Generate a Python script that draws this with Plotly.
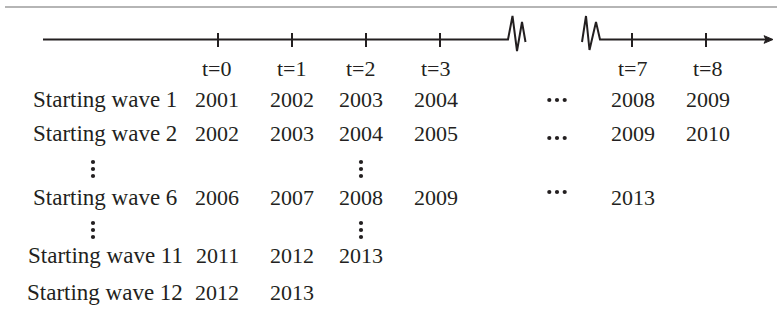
import plotly.graph_objects as go

# ---------------- data ----------------
t_values = [0, 1, 2, 3, 7, 8]
t_labels = ["t=0", "t=1", "t=2", "t=3", "t=7", "t=8"]

row_labels = ["Starting wave 1", "Starting wave 2", "Starting wave 6",
              "Starting wave 11", "Starting wave 12"]
row_t = [
    [0, 1, 2, 3, 7, 8],
    [0, 1, 2, 3, 7, 8],
    [0, 1, 2, 3, 7],
    [0, 1, 2],
    [0, 1],
]
row_years = [
    [2001, 2002, 2003, 2004, 2008, 2009],
    [2002, 2003, 2004, 2005, 2009, 2010],
    [2006, 2007, 2008, 2009, 2013],
    [2011, 2012, 2013],
    [2012, 2013],
]
rows_with_ellipsis = [True, True, True, False, False]

# ---------------- layout helpers (pixel canvas) ----------------
W, H = 777, 316
ROW_Y = [99, 133, 197, 255, 292]
VDOT_Y = [169, 230]
ELLIPSIS_DY = [1, 5, -5, 0, 0]
AXIS_Y = 39.5
TLABEL_Y = 68
LABEL_X = 105
ELLIPSIS_X = 557
INK = "#231f20"
FONT = "Liberation Serif, Times New Roman, serif"
FS = 22
FS_LABEL = 23


def col_px(t):
    # broken time axis: t<=3 on left segment, t>=7 after the break
    if t <= 3:
        return 218 + 74 * t
    return 632 + 74 * (t - 7)


def text_px(t):
    # text columns sit marginally left of the ticks for t=2,3
    off = {0: -1, 1: 0, 2: -5, 3: -4, 7: 1, 8: 2}
    return col_px(t) + off.get(t, 0)


fig = go.Figure()

# main timeline (two segments with break zigzags)
fig.add_trace(go.Scatter(
    x=[43, 508, 512.5, 517, 522, 525.5],
    y=[AXIS_Y, AXIS_Y, 16, 51, 22, 42],
    mode="lines", line=dict(color=INK, width=2), hoverinfo="skip"))
fig.add_trace(go.Scatter(
    x=[582, 586, 589.5, 596, 600, 766],
    y=[42, 16, 50, 22, AXIS_Y, AXIS_Y],
    mode="lines", line=dict(color=INK, width=2), hoverinfo="skip"))

shapes = []
# top rule
shapes.append(dict(type="line", x0=5, x1=W, y0=7, y1=7,
                   line=dict(color="#6d6d6d", width=1.2), xref="x", yref="y"))
# arrowhead
shapes.append(dict(type="path",
                   path=f"M 773 {AXIS_Y} L 764 {AXIS_Y-3.8} L 766 {AXIS_Y} L 764 {AXIS_Y+3.8} Z",
                   fillcolor=INK, line=dict(color=INK, width=1), xref="x", yref="y"))
# ticks
for t in t_values:
    xp = col_px(t)
    shapes.append(dict(type="line", x0=xp, x1=xp, y0=AXIS_Y - 6.5, y1=AXIS_Y + 7.5,
                       line=dict(color=INK, width=2), xref="x", yref="y"))

annotations = []


def add_text(x, y, s, size=FS):
    annotations.append(dict(x=x, y=y, text=s, showarrow=False, xanchor="center",
                            yanchor="middle", xref="x", yref="y",
                            font=dict(family=FONT, size=size, color=INK)))


for t, lab in zip(t_values, t_labels):
    add_text(text_px(t), TLABEL_Y, lab)

for i, lab in enumerate(row_labels):
    add_text(LABEL_X, ROW_Y[i], lab, FS_LABEL)
    for t, yr in zip(row_t[i], row_years[i]):
        add_text(text_px(t), ROW_Y[i], str(yr))

# horizontal ellipses
hx, hy = [], []
for i, has in enumerate(rows_with_ellipsis):
    if has:
        for d in (-7.7, 0, 7.7):
            hx.append(ELLIPSIS_X + d)
            hy.append(ROW_Y[i] + ELLIPSIS_DY[i])
# vertical ellipses
for yc in VDOT_Y:
    for xc in (93, text_px(2)):
        for d in (-7, 0, 7):
            hx.append(xc)
            hy.append(yc + d)
fig.add_trace(go.Scatter(x=hx, y=hy, mode="markers",
                         marker=dict(color=INK, size=4.2), hoverinfo="skip"))

fig.update_layout(
    width=W, height=H, margin=dict(l=0, r=0, t=0, b=0),
    paper_bgcolor="white", plot_bgcolor="white", showlegend=False,
    shapes=shapes, annotations=annotations,
    xaxis=dict(range=[0, W], visible=False, fixedrange=True),
    yaxis=dict(range=[H, 0], visible=False, fixedrange=True),
)
fig.write_html("out.html", config={"displayModeBar": False},
               post_script="document.body.style.margin='0px';document.body.style.overflow='hidden';")
